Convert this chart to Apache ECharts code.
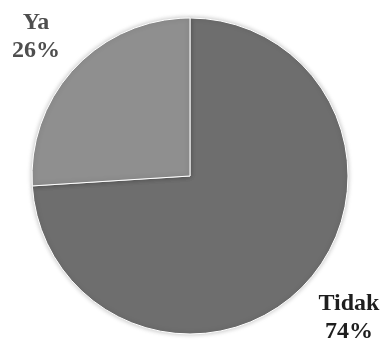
<!DOCTYPE html>
<html>
<head>
<meta charset="utf-8">
<script src="https://cdn.jsdelivr.net/npm/echarts@6/dist/echarts.min.js"></script>
<style>
  html, body { margin: 0; padding: 0; background: #fff; }
  #chart { width: 384px; height: 340px; }
</style>
</head>
<body>
<div id="chart"></div>
<script>
// Answer shares (percent)
var categories = ['Tidak', 'Ya'];
var values = [74, 26];
var sliceColors = ['#6e6e6e', '#8f8f8f'];
var labelColors = ['#1e1e1e', '#4e4e4e'];
// Where each label block is centred
var labelSpots = [[349, 318], [36, 37]];

var chart = echarts.init(document.getElementById('chart'), null, { renderer: 'canvas' });

var data = categories.map(function (name, i) {
  return {
    name: name,
    value: values[i],
    itemStyle: { color: sliceColors[i] },
    label: { color: labelColors[i] }
  };
});

chart.setOption({
  animation: false,
  series: [{
    type: 'pie',
    center: [190, 176],
    radius: 158,
    startAngle: 90,
    clockwise: true,
    avoidLabelOverlap: false,
    data: data,
    itemStyle: {
      borderColor: '#ffffff',
      borderWidth: 1,
      shadowBlur: 5,
      shadowColor: 'rgba(0,0,0,0.25)'
    },
    label: {
      show: true,
      position: 'outside',
      overflow: 'none',
      width: 120,
      formatter: function (p) { return p.name + '\n' + p.value + '%'; },
      fontFamily: 'Liberation Serif',
      fontWeight: 'bold',
      fontSize: 24,
      lineHeight: 28,
      align: 'center',
      verticalAlign: 'middle'
    },
    labelLine: { show: false },
    labelLayout: function (params) {
      var spot = labelSpots[params.dataIndex];
      return { x: spot[0], y: spot[1], align: 'center', verticalAlign: 'middle' };
    }
  }]
});
</script>
</body>
</html>
